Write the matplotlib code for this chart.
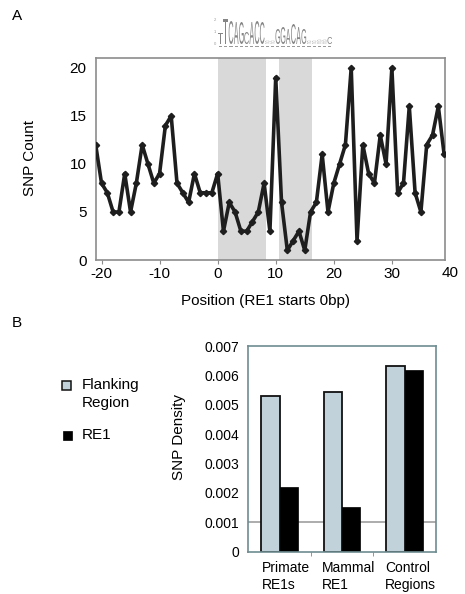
import numpy as np
import matplotlib
matplotlib.use('Agg')
from matplotlib import pyplot as plt
from matplotlib.patches import Rectangle, PathPatch
from matplotlib.textpath import TextPath
from matplotlib.font_manager import FontProperties
import matplotlib.transforms as mtransforms

plt.rcParams['font.family'] = ['Liberation Sans', 'DejaVu Sans']
plt.rcParams['axes.unicode_minus'] = False

# panel A: SNP counts per position around RE1
positions = np.arange(-21, 40)
snp_count = [12, 8, 7, 5, 5, 9, 5, 8, 12, 10, 8, 9, 14, 15, 8, 7, 6, 9, 7, 7, 7,
             9, 3, 6, 5, 3, 3, 4, 5, 8, 3, 19,
             6, 1, 2, 3, 1, 5, 6, 11, 5, 8, 10, 12, 20, 2, 12, 9, 8, 13, 10, 20,
             7, 8, 16, 7, 5, 12, 13, 16, 11]
shaded = [(0, 8.4), (10.55, 16.3)]

# RE1 sequence logo (letter, height in px)
logo_seq = 'TTCAGCACC..GGACAG....C'
logo_h = [11, 25, 23, 22, 22, 12, 22, 23, 22, 3, 3, 15, 17, 15, 20, 17, 15, 3, 3, 4, 4, 7]

# panel B: SNP density
categories = ['Primate\nRE1s', 'Mammal\nRE1', 'Control\nRegions']
flanking = [0.0053, 0.00542, 0.00632]
re1 = [0.00221, 0.00153, 0.00618]

W, H = 465, 594
fig = plt.figure(figsize=(W / 100, H / 100), dpi=100)


def fax(l, t, r, b):
    return [l / W, 1 - b / H, (r - l) / W, (b - t) / H]


# ---- panel A
ax = fig.add_axes(fax(95.7, 58.3, 445, 260))
for a, b in shaded:
    ax.axvspan(a, b, color='#d9d9d9', lw=0, zorder=0)
ax.plot(positions, snp_count, color='#1e1e1e', lw=2.6, marker='D', ms=3.2, zorder=3)
ax.set_xlim(-21, 39.15)
ax.set_ylim(0, 21)
ax.set_yticks([0, 5, 10, 15, 20])
ax.set_xticks(range(-20, 31, 10))
for s in ax.spines.values():
    s.set_color('#8c8c8c')
    s.set_linewidth(1.2)
ax.tick_params(axis='y', length=0, pad=6.5, labelsize=11)
ax.tick_params(axis='x', length=3, color='#8c8c8c', pad=2, labelsize=11)
ax.annotate('40', xy=(40, 0), xycoords=ax.get_xaxis_transform(), xytext=(0, -4),
            textcoords='offset points', ha='center', va='top', fontsize=11,
            annotation_clip=False)
fig.text(30 / W, 1 - 158 / H, 'SNP Count', rotation=90, ha='center', va='center', fontsize=11)
fig.text(265 / W, 1 - 301 / H, 'Position (RE1 starts 0bp)', ha='center', va='center', fontsize=11)
fig.text(17 / W, 1 - 16 / H, 'A', ha='center', va='center', fontsize=11)
fig.text(17 / W, 1 - 323 / H, 'B', ha='center', va='center', fontsize=11)

# ---- sequence logo
lg = fig.add_axes(fax(218, 14, 218 + 5.2 * len(logo_seq), 48))
lg.set_xlim(0, len(logo_seq))
lg.set_ylim(-4, 30)
lg.axis('off')
fp = FontProperties(family='Liberation Sans')


def draw_letter(a, ch, x0, y0, w, h, color):
    tp = TextPath((0, 0), ch, size=1, prop=fp)
    bb = tp.get_extents()
    t = mtransforms.Affine2D().translate(-bb.x0, -bb.y0).scale(w / bb.width, h / bb.height).translate(x0, y0)
    a.add_patch(PathPatch(t.transform_path(tp), fc=color, ec='none'))


for i, (ch, h) in enumerate(zip(logo_seq, logo_h)):
    if ch == '.':
        draw_letter(lg, 'C', i + 0.1, 0, 0.8, h / 2, '#a0a0a0')
        draw_letter(lg, 'G', i + 0.1, h / 2 + 0.3, 0.8, h / 2, '#a0a0a0')
    else:
        draw_letter(lg, ch, i + 0.05, 0, 0.9, h, '#858585')
    draw_letter(lg, '-', i + 0.2, -3, 0.6, 0.8, '#9a9a9a')
for yy, lab in [(0, '0'), (12, '1'), (24, '2')]:
    lg.text(-0.3, yy, lab, fontsize=3, color='#999999', ha='right', va='center')

# ---- panel B
ax2 = fig.add_axes(fax(248.3, 346, 436, 551.7))
xs = np.arange(len(categories))
bw = 0.293
ax2.axhline(0.001, color='#a6a6a6', lw=1.3, zorder=0)
ax2.bar(xs - bw / 2, flanking, bw, color='#c2d2da', edgecolor='#111111', lw=1.3, zorder=2)
ax2.bar(xs + bw / 2, re1, bw, color='black', edgecolor='black', lw=0.5, zorder=2)
ax2.set_xlim(-0.5, 2.5)
ax2.set_ylim(0, 0.007)
ax2.set_yticks(np.arange(0, 0.0071, 0.001))
ax2.set_yticklabels(['0', '0.001', '0.002', '0.003', '0.004', '0.005', '0.006', '0.007'])
ax2.set_xticks(xs)
ax2.set_xticklabels(categories, multialignment='left', linespacing=1.25)
ax2.set_xticks([0.5, 1.5], minor=True)
for s in ax2.spines.values():
    s.set_color('#6e8c91')
    s.set_linewidth(1.2)
ax2.tick_params(axis='y', length=0, pad=6.5, labelsize=10)
ax2.tick_params(axis='x', which='major', length=0, pad=7, labelsize=10)
ax2.tick_params(axis='x', which='minor', length=3, color='#6e8c91')
off = mtransforms.ScaledTranslation(6 / 100, 0, fig.dpi_scale_trans)
for lab in ax2.get_xticklabels():
    lab.set_transform(lab.get_transform() + off)
fig.text(179 / W, 1 - 437 / H, 'SNP Density', rotation=90, ha='center', va='center', fontsize=11)

# legend
fig.add_artist(Rectangle((62 / W, 1 - 389.5 / H), 8.5 / W, 8.5 / H, transform=fig.transFigure,
                         fc='#c2d2da', ec='#111111', lw=1.1))
fig.add_artist(Rectangle((63 / W, 1 - 439.5 / H), 8.5 / W, 8.5 / H, transform=fig.transFigure,
                         fc='black', ec='black', lw=0.5))
fig.text(81.5 / W, 1 - 394 / H, 'Flanking\nRegion', ha='left', va='center', fontsize=11, linespacing=1.3)
fig.text(81.5 / W, 1 - 435 / H, 'RE1', ha='left', va='center', fontsize=11)

fig.savefig('out.png', dpi=100)
